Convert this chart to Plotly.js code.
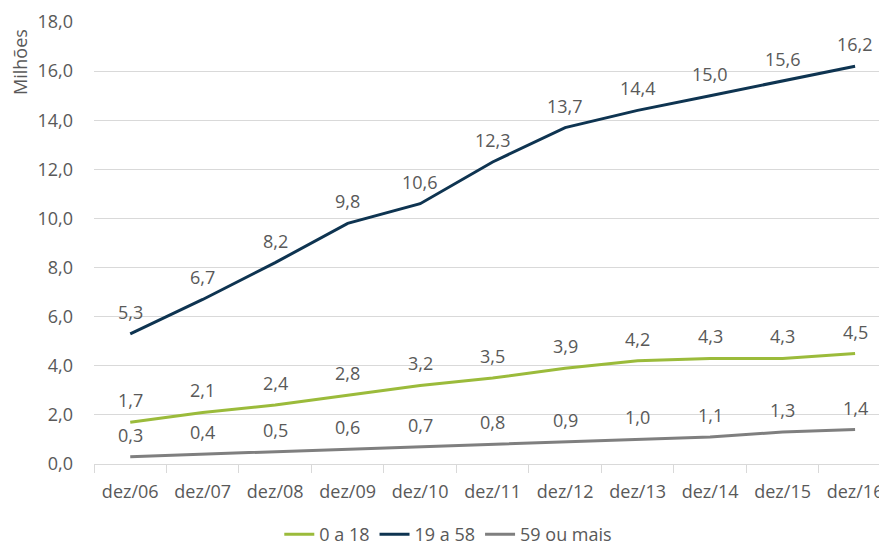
<!DOCTYPE html>
<html>
<head>
<meta charset="utf-8">
<script src="https://cdn.plot.ly/plotly-3.0.1.min.js"></script>
<style>html,body{margin:0;padding:0;background:#fff}#chart{width:879px;height:553px}</style>
</head>
<body>
<div id="chart"></div>
<script>
const categories = ['dez/06','dez/07','dez/08','dez/09','dez/10','dez/11','dez/12','dez/13','dez/14','dez/15','dez/16'];
const seriesNames = ['0 a 18','19 a 58','59 ou mais'];
const young = [1.7,2.1,2.4,2.8,3.2,3.5,3.9,4.2,4.3,4.3,4.5];
const adult = [5.3,6.7,8.2,9.8,10.6,12.3,13.7,14.4,15.0,15.6,16.2];
const senior = [0.3,0.4,0.5,0.6,0.7,0.8,0.9,1.0,1.1,1.3,1.4];
const yTicks = [0,2,4,6,8,10,12,14,16,18];

const colors = ['#9bbb3b','#0e3451','#7f7f7f'];
const allSeries = [young, adult, senior];
const font = {family:'"Open Sans", sans-serif', size:18, color:'#595959'};

const traces = allSeries.map((vals,i)=>({
  x: categories, y: vals, name: seriesNames[i], type:'scatter', mode:'lines',
  line:{color:colors[i], width:3}, hoverinfo:'skip'
}));

const annotations = [];
allSeries.forEach(vals=>{
  vals.forEach((v,j)=>{
    annotations.push({x:categories[j], y:v, xref:'x', yref:'y', text:v.toFixed(1).replace('.',','),
      showarrow:false, yshift:22, font:font});
  });
});
annotations.push({xref:'paper', yref:'paper', x:0, y:1, xanchor:'center', yanchor:'middle',
  xshift:-74, yshift:-40, text:'Milhões', textangle:-90, showarrow:false, font:font});

const layout = {
  width:879, height:553,
  margin:{l:94, r:0, t:22, b:89},
  paper_bgcolor:'#fff', plot_bgcolor:'#fff',
  font: font,
  separators: ',.',
  showlegend:true,
  legend:{orientation:'h', x:0.51, xanchor:'center', xref:'container', y:-0.028, yanchor:'bottom', yref:'container', font:font, traceorder:'normal', itemwidth:30},
  xaxis:{type:'category', range:[-0.5,10.33], showgrid:false, ticks:'outside', tickson:'boundaries', ticklen:8, tickcolor:'#d9d9d9', showline:false, zeroline:false, tickfont:font, ticklabelstandoff:15, fixedrange:true},
  yaxis:{range:[0,18], tickvals:yTicks, tickformat:'.1f', showgrid:true, gridcolor:'#d9d9d9', gridwidth:1, zeroline:true, zerolinecolor:'#d9d9d9', zerolinewidth:1, showline:false, ticks:'', tickfont:font, ticklabelstandoff:20},
  annotations: annotations
};
Plotly.newPlot('chart', traces, layout, {displayModeBar:false, staticPlot:true});
</script>
</body>
</html>
